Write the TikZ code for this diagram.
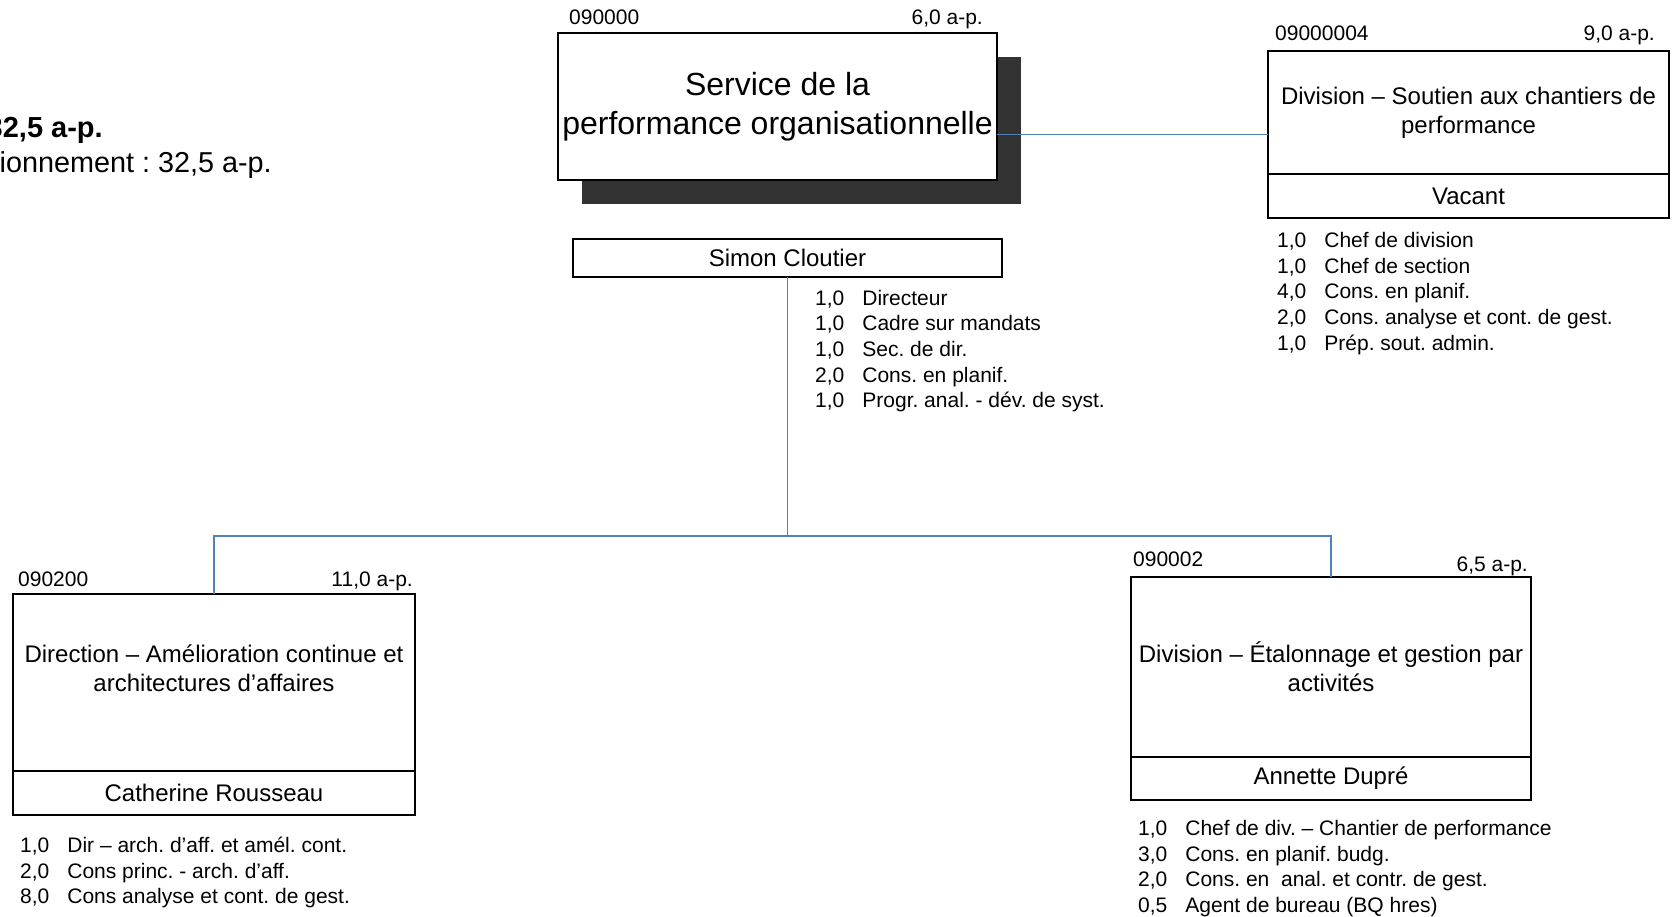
\documentclass[tikz,border=0pt]{standalone}
\usepackage{fontspec}
\setmainfont{Liberation Sans}
\usetikzlibrary{calc,positioning,shadows}
\definecolor{linkblue}{RGB}{79,129,189}
\definecolor{shadowgray}{RGB}{51,51,51}
\frenchspacing

\begin{document}
\begin{tikzpicture}[
    x=1pt, y=-1pt,
    unit/.style={draw, line width=1.8pt, fill=white, align=center, inner sep=2pt, outer sep=0pt,
        font=\fontsize{24}{29}\selectfont},
    code/.style={font=\fontsize{21}{25}\selectfont, inner sep=0pt},
    stafflist/.style={font=\fontsize{21}{25.7}\selectfont, inner sep=0pt, anchor=base west},
    link/.style={draw=linkblue, line width=1.8pt},
]
\useasboundingbox (0,0) rectangle (1672,917);
\clip (0,0) rectangle (1672,917);

% totals (cut at the page edge)
\node[font=\bfseries\fontsize{29}{35}\selectfont, anchor=base east, inner sep=0pt] (total) at (103,138) {32,5 a-p.};
\node[font=\fontsize{28.8}{35}\selectfont, anchor=base east, inner sep=0pt] (total-fonct) at (272,173) {ionnement : 32,5 a-p.};

% service
\node[unit, minimum width=439pt, minimum height=147pt, font=\fontsize{32}{39.5}\selectfont,
    drop shadow={shadow xshift=24pt, shadow yshift=-24pt, fill=shadowgray, opacity=1}]
    (serv) at (777.5,106.5) {Service de la\\performance organisationnelle};
\node[code, anchor=base west] (serv-code) at ($(serv.north west)+(11,-8)$) {090000};
\node[code, anchor=base east] (serv-ap) at ($(serv.north east)+(-14,-8)$) {6,0 a-p.};

\node[unit, minimum width=429pt, minimum height=38pt] (simon) at (787.5,258) {Simon Cloutier};
\node[stafflist] (simon-list) at (815,305) {\begin{tabular}[t]{@{}l@{\hspace{18pt}}l@{}}
    1,0 & Directeur\\
    1,0 & Cadre sur mandats\\
    1,0 & Sec. de dir.\\
    2,0 & Cons. en planif.\\
    1,0 & Progr. anal. - dév. de syst.
\end{tabular}};

% division soutien
\node[unit, minimum width=401pt, minimum height=123pt] (divs) at (1468.5,112.5) {Division – Soutien aux chantiers de\\performance};
\node[unit, minimum width=401pt, minimum height=44pt, below=0pt of divs] (divs-name) {Vacant};
\node[code, anchor=base west] (divs-code) at ($(divs.north west)+(7,-10)$) {09000004};
\node[code, anchor=base east] (divs-ap) at ($(divs.north east)+(-14,-10)$) {9,0 a-p.};
\node[stafflist] (divs-list) at (1277,247.5) {\begin{tabular}[t]{@{}l@{\hspace{18pt}}l@{}}
    1,0 & Chef de division\\
    1,0 & Chef de section\\
    4,0 & Cons. en planif.\\
    2,0 & Cons. analyse et cont. de gest.\\
    1,0 & Prép. sout. admin.
\end{tabular}};

% direction
\node[unit, minimum width=402pt, minimum height=177pt] (dir) at (214,682.5) {Direction – Amélioration continue et\\architectures d’affaires\\~};
\node[unit, minimum width=402pt, minimum height=44pt, below=0pt of dir] (dir-name) {Catherine Rousseau};
\node[code, anchor=base west] (dir-code) at ($(dir.north west)+(5,-8)$) {090200};
\node[code, anchor=base east] (dir-ap) at ($(dir.north east)+(-2,-8)$) {11,0 a-p.};
\node[stafflist] (dir-list) at (20,852.5) {\begin{tabular}[t]{@{}l@{\hspace{18pt}}l@{}}
    1,0 & Dir – arch. d'aff. et amél. cont.\\
    2,0 & Cons princ. - arch. d'aff.\\
    8,0 & Cons analyse et cont. de gest.
\end{tabular}};

% division etalonnage
\node[unit, minimum width=400pt, minimum height=180pt] (etal) at (1331,667) {Division – Étalonnage et gestion par\\activités};
\node[unit, minimum width=400pt, minimum height=43pt, below=0pt of etal] (etal-name) {Annette Dupré};
\node[code, anchor=base west] (etal-code) at ($(etal.north west)+(2,-11)$) {090002};
\node[code, anchor=base east] (etal-ap) at ($(etal.north east)+(-3,-6)$) {6,5 a-p.};
\node[stafflist] (etal-list) at (1138,835.5) {\begin{tabular}[t]{@{}l@{\hspace{18pt}}l@{}}
    1,0 & Chef de div. – Chantier de performance\\
    3,0 & Cons. en planif. budg.\\
    2,0 & Cons. en~~anal. et contr. de gest.\\
    0,5 & Agent de bureau (BQ hres)
\end{tabular}};

% links
\coordinate (bus) at (787.5,536);
\coordinate (divs-mid) at ($(divs.north west)!0.5!(divs-name.south west)$);
\draw[link] (serv.east |- divs-mid) -- (divs-mid);
\draw[link] (simon) -- (bus);
\draw[link] (dir) |- (bus) -| (etal);
\end{tikzpicture}
\end{document}
